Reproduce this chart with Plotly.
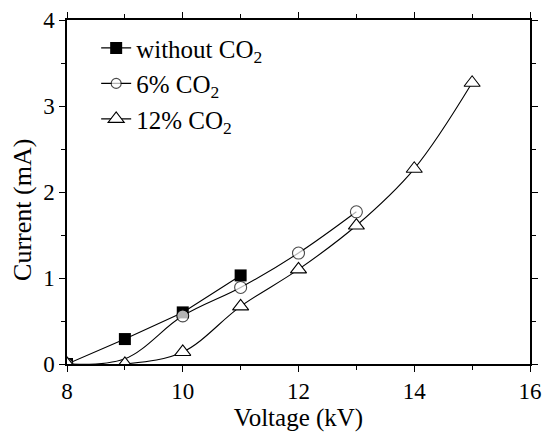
import plotly.graph_objects as go

# Data
voltage_without = [8, 9, 10, 11]
current_without = [0.0, 0.29, 0.60, 1.03]

voltage_6 = [8, 9, 10, 11, 12, 13]
current_6 = [0.0, 0.06, 0.56, 0.89, 1.29, 1.77]

voltage_12 = [8, 9, 10, 11, 12, 13, 14, 15]
current_12 = [0.0, 0.0, 0.14, 0.67, 1.10, 1.61, 2.27, 3.27]

x_ticks = [8, 10, 12, 14, 16]
y_ticks = [0, 1, 2, 3, 4]

FONT = "Liberation Serif, Times New Roman, serif"

fig = go.Figure()

fig.add_trace(go.Scatter(
    x=voltage_without, y=current_without, mode="lines+markers",
    name="without CO<sub>2</sub>",
    line=dict(color="black", width=1.1),
    marker=dict(symbol="square", size=12, color="black"),
))

fig.add_trace(go.Scatter(
    x=voltage_6, y=current_6, mode="lines+markers",
    name="6% CO<sub>2</sub>",
    line=dict(color="black", width=1.1, shape="spline", smoothing=1.0),
    marker=dict(symbol="circle", size=[12, 0, 12, 12, 12, 12], color="white",
                line=dict(width=1.1, color="black")),
))

fig.add_trace(go.Scatter(
    x=voltage_12, y=current_12, mode="lines+markers",
    name="12% CO<sub>2</sub>",
    line=dict(color="black", width=1.1, shape="spline", smoothing=1.0),
    marker=dict(symbol="triangle-up", size=14, color="white",
                line=dict(width=1.1, color="black")),
))

axis_common = dict(
    showgrid=False, zeroline=False, showline=True, linecolor="black", linewidth=1.5,
    mirror="ticks", ticks="outside", ticklen=6, tickwidth=1.3, tickcolor="black",
    tickfont=dict(family=FONT, size=23, color="black"), automargin=False,
)

fig.update_xaxes(
    range=[8, 16], tickvals=x_ticks, ticktext=[str(v) for v in x_ticks],
    title=dict(text="Voltage (kV)", font=dict(family=FONT, size=25, color="black"), standoff=4),
    minor=dict(dtick=1, ticks="outside", ticklen=4, tickwidth=1.2, tickcolor="black"),
    **axis_common,
)
fig.update_yaxes(
    range=[0, 4], tickvals=y_ticks, ticktext=[str(v) for v in y_ticks],
    minor=dict(dtick=0.5, ticks="outside", ticklen=4, tickwidth=1.2, tickcolor="black"),
    **axis_common,
)

fig.add_annotation(
    text="Current (mA)", xref="paper", yref="paper", x=-0.095, y=0.448,
    xanchor="center", yanchor="middle", textangle=-90, showarrow=False,
    font=dict(family=FONT, size=26, color="black"),
)

fig.update_layout(
    width=546, height=434,
    margin=dict(l=67, r=16, t=20, b=70),
    paper_bgcolor="white", plot_bgcolor="white",
    font=dict(family=FONT, color="black"),
    showlegend=True,
    legend=dict(
        x=0.063, y=0.985, xanchor="left", yanchor="top",
        font=dict(family=FONT, size=25, color="black"),
        bgcolor="rgba(0,0,0,0)", borderwidth=0, tracegroupgap=0,
    ),
)

fig.write_html("out.html", config={"displayModeBar": False},
               post_script="document.body.style.margin='0px';")
